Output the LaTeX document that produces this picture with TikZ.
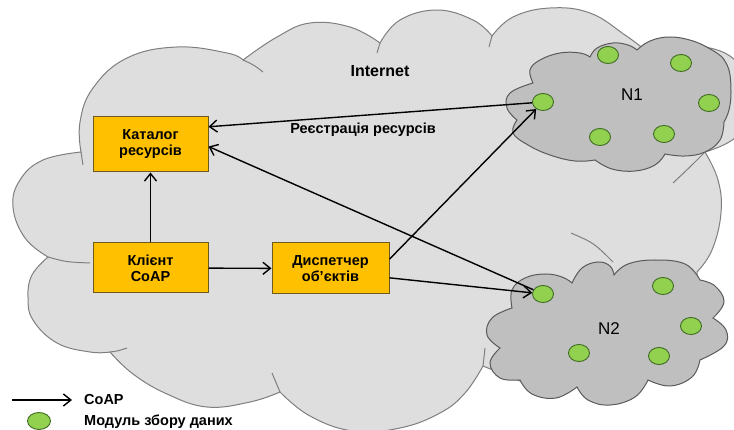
\documentclass[tikz,border=0pt]{standalone}
\usepackage{fontspec}
\setmainfont{Liberation Sans}
\usetikzlibrary{arrows.meta,shapes.geometric}

\definecolor{cloudfill}{HTML}{DEDEDE}
\definecolor{cloudline}{HTML}{7F7F7F}
\definecolor{netfill}{HTML}{BFBFBF}
\definecolor{netline}{HTML}{5A5A5A}
\definecolor{dotfill}{HTML}{92D050}
\definecolor{dotline}{HTML}{3F6B22}
\definecolor{boxfill}{HTML}{FFC000}
\definecolor{boxline}{HTML}{6E5A1E}

\tikzset{
  bigcloud/.style={fill=cloudfill, draw=cloudline, line width=1pt},
  tail/.style={draw=cloudline, line width=1pt},
  netcloud/.style={fill=netfill, draw=netline, line width=1pt},
  sensor/.style={ellipse, fill=dotfill, draw=dotline, line width=0.9pt,
    minimum width=21pt, minimum height=17pt, inner sep=0pt},
  block/.style={rectangle, fill=boxfill, draw=boxline, line width=1pt,
    inner sep=0pt, align=center, font=\bfseries\fontsize{14.5}{16}\selectfont},
  flow/.style={-{Straight Barb[length=7.5pt,width=12pt]}, line width=1.4pt, black},
  lbl/.style={font=\bfseries\fontsize{14.5}{16}\selectfont, inner sep=0pt},
  biglbl/.style={font=\bfseries\fontsize{16}{18}\selectfont, inner sep=0pt},
  netlbl/.style={font=\fontsize{17}{20}\selectfont, inner sep=0pt},
  pf/.style={smooth, tension=0.7},
}

\begin{document}
\begin{tikzpicture}[x=1pt, y=-1pt]
\useasboundingbox (0,0) rectangle (734,430);
\clip (0,0) rectangle (734,430);

% Internet cloud
\path[bigcloud]
  plot[pf] coordinates {(81,152) (80,122) (93,88) (127,58) (177,47) (227,53) (243,60)}
  -- plot[pf] coordinates {(243,60) (277,37) (310,23) (350,27) (380,43)}
  -- plot[pf] coordinates {(380,43) (400,20) (437,10) (473,20) (492,36)}
  -- plot[pf] coordinates {(492,36) (513,17) (550,8) (590,13) (625,35) (645,50)}
  -- plot[pf] coordinates {(645,50) (690,45) (735,60) (748,100) (738,135) (705,152)}
  -- plot[pf] coordinates {(705,152) (718,180) (721,213) (712,250) (697,272)}
  -- plot[pf] coordinates {(697,272) (680,320) (590,360) (525,383)}
  -- (483,366)
  -- plot[pf] coordinates {(483,366) (465,393) (440,413) (400,428) (353,431) (310,416) (280,392)}
  -- plot[pf] coordinates {(280,392) (250,402) (207,407) (167,394) (133,374) (110,352)}
  -- plot[pf] coordinates {(110,352) (90,352) (57,343) (33,320) (28,297) (32,275) (48,257)}
  -- plot[pf] coordinates {(48,257) (25,238) (13,207) (20,180) (43,160) (81,152)}
  -- cycle;

% inner ends of the puffs
\draw[tail] (81,152) .. controls (82,158) .. (83,165);
\draw[tail] (243,60) .. controls (254,65) .. (263,72);
\draw[tail] (380,43) .. controls (379,48) .. (377,53);
\draw[tail] (492,36) .. controls (491,42) .. (489,47);
\draw[tail] (280,392) .. controls (276,383) .. (272,373);
\draw[tail] (110,352) .. controls (118,351) .. (127,348);
\draw[tail] (48,257) .. controls (66,262) .. (90,263);
\draw[tail] (483,366) .. controls (484,357) .. (485,348);
\draw[tail] (705,152) .. controls (690,167) .. (673,183);
\draw[tail] (571,233) .. controls (594,243) .. (613,262);

% Network N1
\path[netcloud]
  plot[pf] coordinates {(533,83) (530,70) (540,60) (560,53) (580,53) (590,57)}
  -- plot[pf] coordinates {(590,57) (597,48) (613,43) (628,45) (637,50)}
  -- plot[pf] coordinates {(637,50) (650,41) (670,37) (693,41) (712,50) (722,57)}
  -- plot[pf] coordinates {(722,57) (729,70) (731,92) (729,110) (724,122)}
  -- plot[pf] coordinates {(724,122) (720,140) (705,152) (685,156) (665,154)}
  -- plot[pf] coordinates {(665,154) (655,165) (635,171) (612,169) (595,160)}
  -- plot[pf] coordinates {(595,160) (575,161) (550,155) (528,145) (513,133) (517,120)}
  -- plot[pf] coordinates {(517,120) (507,108) (510,93) (533,83)}
  -- cycle;

% Network N2
\path[netcloud]
  plot[pf] coordinates {(512,308) (512,290) (525,278) (545,274) (562,277) (572,283)}
  -- plot[pf] coordinates {(572,283) (582,268) (598,262) (610,266) (614,275)}
  -- plot[pf] coordinates {(614,275) (628,264) (655,260) (685,264) (700,280)}
  -- plot[pf] coordinates {(700,280) (715,286) (724,302) (713,318)}
  -- plot[pf] coordinates {(713,318) (726,330) (724,346) (700,360)}
  -- plot[pf] coordinates {(700,360) (692,377) (670,386) (648,380)}
  -- plot[pf] coordinates {(648,380) (635,397) (610,405) (588,400) (577,387)}
  -- plot[pf] coordinates {(577,387) (556,398) (532,394) (520,380)}
  -- plot[pf] coordinates {(520,380) (500,378) (490,363) (500,348)}
  -- plot[pf] coordinates {(500,348) (487,335) (492,318) (512,308)}
  -- cycle;

% data collection modules
\node[sensor] (n1a) at (543,102) {};
\node[sensor] (n1b) at (608,55) {};
\node[sensor] (n1c) at (681,63) {};
\node[sensor] (n1d) at (709,103) {};
\node[sensor] (n1e) at (600,137) {};
\node[sensor] (n1f) at (664,134) {};

\node[sensor] (n2a) at (543,294) {};
\node[sensor] (n2b) at (663,286) {};
\node[sensor] (n2c) at (691,326) {};
\node[sensor] (n2d) at (579,353) {};
\node[sensor] (n2e) at (659,356) {};

% labels
\node[biglbl] (inet) at (380,71) {Internet};
\node[netlbl] (lblN1) at (632,95) {N1};
\node[netlbl] (lblN2) at (609,329) {N2};

% components
\node[block, minimum width=115pt, minimum height=55pt] (kat) at (150.5,144.5) {Каталог\\ресурсів};
\node[block, minimum width=115pt, minimum height=50pt] (kli) at (150.5,268) {Клієнт\\CoAP};
\node[block, minimum width=117pt, minimum height=51pt] (disp) at (330.5,268.5) {Диспетчер\\об'єктів};

% CoAP exchanges
\draw[flow] (n1a) -- (kat.17);
\node[lbl] (reg) at (363,130) {Реєстрація ресурсів};
\draw[flow] (n2a) -- (kat.-2);
\draw[flow] (kli) -- (kat);
\draw[flow] (kli) -- (disp);
\draw[flow] (disp.9) -- (n1a);
\draw[flow] (disp.-9) -- (n2a);

% legend
\coordinate (legA) at (12,400);
\coordinate (legB) at (72,400);
\draw[flow] (legA) -- (legB);
\node[lbl, anchor=west] (legCoap) at (84,400) {CoAP};
\node[sensor, minimum width=23pt] (legDot) at (39,421) {};
\node[lbl, anchor=west] (legMod) at (84,422) {Модуль збору даних};
\end{tikzpicture}
\end{document}
